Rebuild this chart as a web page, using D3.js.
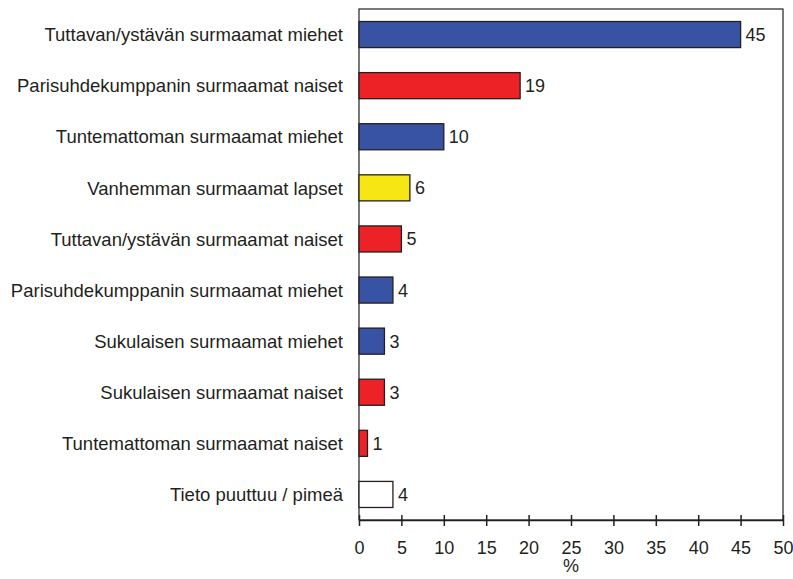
<!DOCTYPE html>
<html>
<head>
<meta charset="utf-8">
<script src="https://cdn.jsdelivr.net/npm/d3@7"></script>
<style>
  body { margin: 0; background: #fff; }
  text { font-family: "Liberation Sans", Arial, sans-serif; fill: #231f20; }
</style>
</head>
<body>
<div id="chart"></div>
<script>
var categories = [
    'Tuttavan/ystävän surmaamat miehet',
    'Parisuhdekumppanin surmaamat naiset',
    'Tuntemattoman surmaamat miehet',
    'Vanhemman surmaamat lapset',
    'Tuttavan/ystävän surmaamat naiset',
    'Parisuhdekumppanin surmaamat miehet',
    'Sukulaisen surmaamat miehet',
    'Sukulaisen surmaamat naiset',
    'Tuntemattoman surmaamat naiset',
    'Tieto puuttuu / pimeä'
];
var values = [45, 19, 10, 6, 5, 4, 3, 3, 1, 4];
var groups = ['miehet', 'naiset', 'miehet', 'lapset', 'naiset', 'miehet', 'miehet', 'naiset', 'naiset', 'tuntematon'];
var xTicks = [0, 5, 10, 15, 20, 25, 30, 35, 40, 45, 50];

var colors = {
    miehet: '#3953a4',
    naiset: '#ed2227',
    lapset: '#f5e614',
    tuntematon: '#ffffff'
};

var width = 793, height = 579;
var margin = { top: 9, right: 10, bottom: 59, left: 359 };
var plotW = 783 - margin.left;
var plotH = 520 - margin.top;
var fontSize = '18px';

var svg = d3.select('#chart')
    .append('svg')
    .attr('width', width)
    .attr('height', height);

var g = svg.append('g')
    .attr('transform', `translate(${margin.left}, ${margin.top})`);

var x = d3.scaleLinear().domain([0, 50]).range([0, plotW]);
var y = d3.scaleBand().domain(categories).range([0, plotH]).paddingInner(0.49).paddingOuter(0.245);

// frame
g.append('rect')
    .attr('x', 0).attr('y', 0)
    .attr('width', plotW).attr('height', plotH)
    .attr('fill', 'none')
    .attr('stroke', '#231f20')
    .attr('stroke-width', 1.2);

var data = categories.map(function(c, i) { return { cat: c, value: values[i], group: groups[i] }; });

g.selectAll('rect.bar')
    .data(data)
    .enter()
    .append('rect')
    .attr('class', 'bar')
    .attr('x', x(0))
    .attr('y', function(d) { return y(d.cat); })
    .attr('width', function(d) { return x(d.value) - x(0); })
    .attr('height', y.bandwidth())
    .attr('fill', function(d) { return colors[d.group]; })
    .attr('stroke', '#231f20')
    .attr('stroke-width', 1.3);

// value labels
g.selectAll('text.val')
    .data(data)
    .enter()
    .append('text')
    .attr('class', 'val')
    .attr('x', function(d) { return x(d.value) + 5; })
    .attr('y', function(d) { return y(d.cat) + y.bandwidth() / 2; })
    .attr('dy', '0.36em')
    .style('font-size', fontSize)
    .text(function(d) { return d.value; });

// category labels
g.selectAll('text.cat')
    .data(data)
    .enter()
    .append('text')
    .attr('class', 'cat')
    .attr('x', -16)
    .attr('y', function(d) { return y(d.cat) + y.bandwidth() / 2; })
    .attr('dy', '0.36em')
    .attr('text-anchor', 'end')
    .style('font-size', '18.5px')
    .text(function(d) { return d.cat; });

// x axis
var xAxis = d3.axisBottom(x).tickValues(xTicks).tickSize(6).tickSizeOuter(0).tickPadding(15);
var axisG = g.append('g')
    .attr('transform', `translate(0, ${plotH})`)
    .call(xAxis);
axisG.select('.domain').attr('stroke', '#231f20').attr('stroke-width', 1.5);
axisG.selectAll('.tick line')
    .attr('y1', -5)
    .attr('stroke', '#231f20')
    .attr('stroke-width', 1.5);
axisG.selectAll('.tick text')
    .style('font-size', fontSize)
    .style('font-family', '"Liberation Sans", Arial, sans-serif')
    .attr('fill', '#231f20');

g.append('text')
    .attr('x', plotW / 2)
    .attr('y', plotH + 52)
    .attr('text-anchor', 'middle')
    .style('font-size', fontSize)
    .text('%');
</script>
</body>
</html>
